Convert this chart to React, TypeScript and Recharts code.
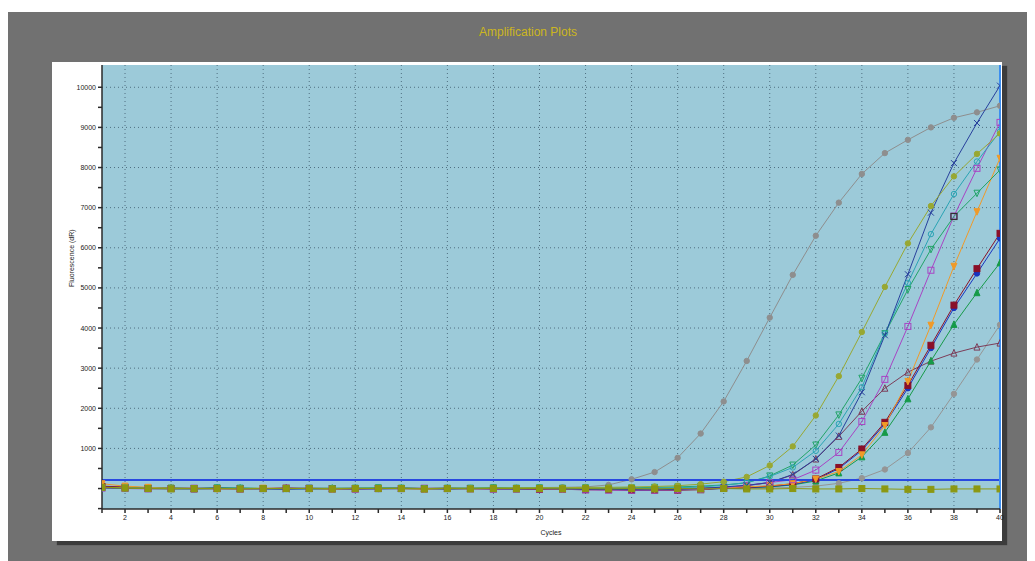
import React from "react";
import { LineChart, Line, XAxis, YAxis, CartesianGrid, ReferenceLine } from "recharts";

const cycles = [1, 2, 3, 4, 5, 6, 7, 8, 9, 10, 11, 12, 13, 14, 15, 16, 17, 18, 19, 20, 21, 22, 23, 24, 25, 26, 27, 28, 29, 30, 31, 32, 33, 34, 35, 36, 37, 38, 39, 40];

// fluorescence (dR) per cycle
const grayEarly = [40, 20, 10, 15, 5, 0, -5, 0, 5, 0, -10, -5, 0, 5, 0, 10, 5, 15, 20, 25, 30, 40, 90, 230, 410, 765, 1370, 2170, 3180, 4260, 5325, 6300, 7125, 7840, 8360, 8690, 9000, 9240, 9375, 9540];
const olive = [30, 20, 10, 0, 5, 0, -5, 0, 0, 5, 0, 0, 5, 10, 0, 5, 10, 10, 15, 20, 20, 30, 30, 40, 50, 70, 110, 170, 290, 575, 1050, 1820, 2800, 3900, 5025, 6110, 7040, 7780, 8340, 8850];
const navyX = [20, 10, 0, -10, 0, 10, 0, -10, -20, 0, 0, -10, 0, 10, 0, -10, 0, 0, -10, 0, -10, -20, -20, -30, -30, -20, 0, 40, 80, 150, 350, 740, 1320, 2400, 3820, 5340, 6875, 8110, 9110, 10040];
const tealCircle = [30, 20, 10, 0, -10, 0, 10, 0, 0, -10, 0, 0, 10, 0, 0, 0, 10, 0, 0, 0, 0, 0, 10, 10, 10, 20, 40, 80, 150, 300, 525, 940, 1610, 2525, 3860, 5125, 6340, 7340, 8150, 8900];
const greenTri = [20, 10, 0, 10, 0, 20, 10, 0, 0, 10, 0, 10, 20, 10, 0, 10, 10, 20, 10, 20, 10, 20, 10, 20, 30, 40, 60, 90, 140, 315, 585, 1085, 1835, 2750, 3860, 4960, 5960, 6780, 7360, 7940];
const purpleSq = [10, 0, -10, 0, 10, 0, -10, 0, 0, 10, 0, -10, 0, 0, 10, 0, -10, -10, 0, -10, -20, -30, -40, -40, -40, -30, -20, 20, 80, 150, 220, 460, 900, 1670, 2720, 4040, 5440, 6790, 7980, 9125];
const orangeTri = [120, 60, 30, 10, 0, -10, 0, 10, 0, 0, -10, 0, 10, 0, -10, 0, 0, 10, 0, 0, -10, 0, 0, -10, -20, -20, -10, 20, 40, 70, 120, 235, 425, 840, 1570, 2670, 4070, 5540, 6900, 8230];
const maroonSq = [50, 30, 10, 0, -10, 0, -10, 0, 10, 0, -10, -10, 0, 0, -10, 0, 0, -10, -10, -20, -20, -30, -30, -40, -40, -40, -30, 10, 30, 60, 120, 240, 525, 985, 1650, 2570, 3570, 4570, 5480, 6360];
const blueCirc = [40, 20, 10, 0, 0, -10, 0, 0, 0, -10, 0, 0, -10, 0, 0, -10, 0, -10, 0, -10, -20, -20, -30, -30, -30, -30, -20, 0, 20, 50, 100, 220, 500, 950, 1610, 2500, 3500, 4500, 5360, 6235];
const greenTriUp = [30, 10, 0, 10, 0, 0, 10, 0, 0, 0, 10, 0, 0, 10, 0, 0, 0, 10, 0, 0, 0, -10, 0, 0, -10, 0, 0, 10, 20, 40, 90, 190, 390, 790, 1400, 2235, 3180, 4090, 4880, 5625];
const brownTri = [60, 40, 20, 10, 0, 10, 0, 0, 10, 0, 0, 10, 0, 0, 0, 10, 0, 0, 0, 0, -10, 0, -10, -10, -10, 0, 10, 30, 70, 150, 340, 735, 1300, 1925, 2500, 2900, 3175, 3375, 3525, 3625];
const grayLate = [20, 10, 0, 0, 10, 0, 0, -10, 0, 0, 0, 0, 0, -10, 0, 0, 0, 0, 0, 0, 0, 0, 0, 0, 0, 0, 0, 0, 0, 10, 30, 60, 130, 260, 475, 885, 1525, 2360, 3215, 4080];
const oliveSq = [30, 10, 0, -10, 0, 0, -10, 0, 0, 0, -10, 0, 0, 0, -10, 0, -10, 0, 0, 0, -10, 0, -10, 0, -10, 0, -10, 0, -10, -10, 0, -10, -10, 0, -10, -20, -20, -10, -10, -10];

const yTicks = [-500, 0, 500, 1000, 1500, 2000, 2500, 3000, 3500, 4000, 4500, 5000, 5500, 6000, 6500, 7000, 7500, 8000, 8500, 9000, 9500, 10000];
const yGrid = [1000, 2000, 3000, 4000, 5000, 6000, 7000, 8000, 9000, 10000];
const xLabels = [2, 4, 6, 8, 10, 12, 14, 16, 18, 20, 22, 24, 26, 28, 30, 32, 34, 36, 38, 40];
const threshold = 210;

const data = cycles.map((c, i) => ({
  cycle: c,
  grayEarly: grayEarly[i],
  olive: olive[i],
  navyX: navyX[i],
  tealCircle: tealCircle[i],
  greenTri: greenTri[i],
  purpleSq: purpleSq[i],
  orangeTri: orangeTri[i],
  maroonSq: maroonSq[i],
  blueCirc: blueCirc[i],
  greenTriUp: greenTriUp[i],
  brownTri: brownTri[i],
  grayLate: grayLate[i],
  oliveSq: oliveSq[i],
}));

type Shape = "circle" | "square" | "tri" | "triDown" | "x";

function makeDot(shape: Shape, color: string, filled: boolean, size = 3) {
  return (p: any) => {
    const { cx, cy, index } = p;
    if (cx == null || cy == null) return <g key={index} />;
    const fill = filled ? color : "none";
    const s = size;
    // the one highlighted point on the green curve
    if (p.dataKey === "greenTri" && p.payload && p.payload.cycle === 38) {
      return <rect key={index} x={cx - s} y={cy - s} width={s * 2} height={s * 2} fill="none" stroke="#303030" strokeWidth={1.2} />;
    }
    switch (shape) {
      case "square":
        return <rect key={index} x={cx - s} y={cy - s} width={s * 2} height={s * 2} fill={fill} stroke={color} strokeWidth={1} />;
      case "tri":
        return <polygon key={index} points={`${cx},${cy - s - 0.5} ${cx - s},${cy + s} ${cx + s},${cy + s}`} fill={fill} stroke={color} strokeWidth={1} />;
      case "triDown":
        return <polygon key={index} points={`${cx - s},${cy - s} ${cx + s},${cy - s} ${cx},${cy + s + 0.5}`} fill={fill} stroke={color} strokeWidth={1} />;
      case "x":
        return (
          <g key={index} stroke={color} strokeWidth={1}>
            <line x1={cx - s} y1={cy - s} x2={cx + s} y2={cy + s} />
            <line x1={cx - s} y1={cy + s} x2={cx + s} y2={cy - s} />
          </g>
        );
      default:
        return <circle key={index} cx={cx} cy={cy} r={s * 0.9} fill={fill} stroke={color} strokeWidth={1} />;
    }
  };
}

const seriesList: { key: string; color: string; shape: Shape; filled: boolean }[] = [
  { key: "grayEarly", color: "#8e8e8e", shape: "circle", filled: true },
  { key: "grayLate", color: "#959595", shape: "circle", filled: true },
  { key: "brownTri", color: "#7c3c58", shape: "tri", filled: false },
  { key: "greenTriUp", color: "#169a48", shape: "tri", filled: true },
  { key: "blueCirc", color: "#1834c0", shape: "circle", filled: true },
  { key: "maroonSq", color: "#8a1028", shape: "square", filled: true },
  { key: "orangeTri", color: "#f09a28", shape: "triDown", filled: true },
  { key: "purpleSq", color: "#a844c4", shape: "square", filled: false },
  { key: "greenTri", color: "#22a468", shape: "triDown", filled: false },
  { key: "tealCircle", color: "#2aa4b4", shape: "circle", filled: false },
  { key: "navyX", color: "#28409c", shape: "x", filled: false },
  { key: "olive", color: "#98a832", shape: "circle", filled: true },
  { key: "oliveSq", color: "#8c9812", shape: "square", filled: true },
];

const tickStyle = { fill: "#222", fontSize: 7, fontFamily: "Arial, 'Liberation Sans', sans-serif" };

export default function App() {
  return (
    <div
      style={{
        marginTop: 4,
        width: 1027,
        height: 549,
        background: "#717171",
        position: "relative",
        fontFamily: "Arial, 'Liberation Sans', sans-serif",
      }}
    >
      <div style={{ position: "absolute", left: 0, width: 1040, top: 13, textAlign: "center", color: "#ccb620", fontSize: 12 }}>
        Amplification Plots
      </div>
      <div
        style={{
          position: "absolute",
          left: 44,
          top: 50,
          width: 950,
          height: 479,
          background: "#fff",
          boxShadow: "5px 4px 1px #3c3c3c",
        }}
      >
        <LineChart width={962} height={479} data={data} margin={{ top: 3, right: 14, left: 0, bottom: 0 }} style={{ overflow: "visible" }}>
          <CartesianGrid
            fill="#9ccad9"
            stroke="#4f6f80"
            strokeDasharray="1 3"
            horizontalValues={yGrid}
            verticalValues={xLabels}
          />
          <XAxis
            dataKey="cycle"
            type="number"
            domain={[1, 40]}
            ticks={cycles}
            interval={0}
            height={32}
            allowDataOverflow
            tickFormatter={(v: number) => (v % 2 === 0 ? String(v) : "")}
            tick={tickStyle}
            tickSize={4}
            stroke="#2a2a2a"
            strokeWidth={1.5}
            label={{ value: "Cycles", position: "insideBottom", offset: 6, fill: "#222", fontSize: 7 }}
          />
          <YAxis
            type="number"
            domain={[-510, 10555]}
            ticks={yTicks}
            interval={0}
            width={50}
            allowDataOverflow
            tickFormatter={(v: number) => (v > 0 && v % 1000 === 0 ? String(v) : "")}
            tick={tickStyle}
            tickSize={4}
            stroke="#2a2a2a"
            strokeWidth={1.5}
            label={{ value: "Fluorescence (dR)", angle: -90, position: "insideLeft", offset: 20, fill: "#222", fontSize: 7 }}
          />
          {seriesList.map((s) => (
            <Line
              key={s.key}
              type="linear"
              dataKey={s.key}
              stroke={s.color}
              strokeWidth={1}
              dot={makeDot(s.shape, s.color, s.filled)}
              activeDot={false}
              isAnimationActive={false}
            />
          ))}
          <ReferenceLine y={threshold} stroke="#2848e0" strokeWidth={2} />
          <ReferenceLine x={40} stroke="#3c8ef0" strokeWidth={2} />
        </LineChart>
      </div>
    </div>
  );
}
